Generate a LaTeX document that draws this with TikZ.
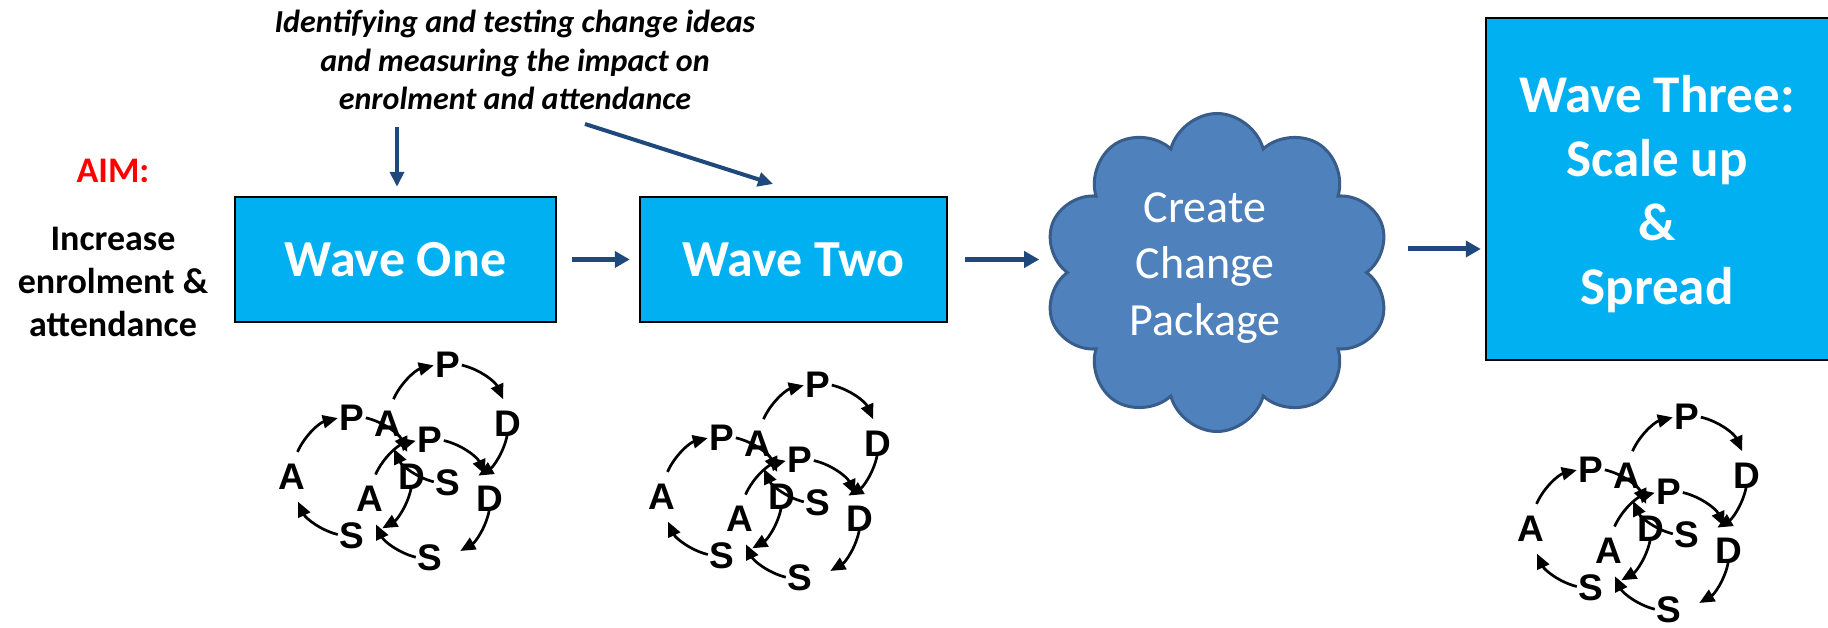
\documentclass[tikz,border=0pt]{standalone}
\usepackage{fontspec}
\setmainfont{Carlito}
\newfontfamily\pdsafont{Liberation Sans}
\usetikzlibrary{shapes.symbols,arrows.meta}
\definecolor{waveblue}{HTML}{00B0F0}
\definecolor{cloudblue}{HTML}{4F81BD}
\definecolor{cloudedge}{HTML}{385D8A}
\definecolor{arrowblue}{HTML}{1F497D}
\definecolor{aimred}{HTML}{FF0000}
\tikzset{
  wavebox/.style={draw=black, line width=2.4pt, fill=waveblue, inner sep=0pt,
    text=white, font=\bfseries\fontsize{52}{64}\selectfont},
  wavetext/.style={text=white, font=\bfseries\fontsize{53}{64}\selectfont,
    align=center, inner sep=0pt},
  flowarrow/.style={draw=arrowblue, line width=5pt, -{Triangle[length=15pt,width=16pt]}},
  feedarrow/.style={draw=arrowblue, line width=4pt, -{Triangle[length=15pt,width=14pt]}},
  pdsaletter/.style={font=\pdsafont\bfseries\fontsize{37}{37}\selectfont, inner sep=0pt},
  pdsaarc/.style={line width=2.7pt, -{Triangle[length=15pt,width=13pt]}},
  % one Plan-Do-Study-Act cycle, clockwise
  pdsa cycle/.pic={
    \draw[pdsaarc] (156:60) arc[start angle=156, end angle=104, radius=60];
    \draw[pdsaarc] (77:60) arc[start angle=77, end angle=24, radius=60];
    \draw[pdsaarc] (-11:60) arc[start angle=-11, end angle=-60, radius=60];
    \draw[pdsaarc] (-104:60) arc[start angle=-104, end angle=-155, radius=60];
    \node[pdsaletter] (-P) at (90:59) {P};
    \node[pdsaletter] (-D) at (0:60) {D};
    \node[pdsaletter] (-S) at (-90:59) {S};
    \node[pdsaletter] (-A) at (180:60) {A};
  },
  % three linked cycles
  pdsa ramp/.pic={
    \pic (-c1) at (0,0) {pdsa cycle};
    \pic (-c2) at (96,52.7) {pdsa cycle};
    \pic (-c3) at (78,-22.7) {pdsa cycle};
  }
}
\begin{document}
\begin{tikzpicture}[x=1pt,y=1pt]
\useasboundingbox (0,0) rectangle (1828,628);
\clip (0,0) rectangle (1828,628);

% headline over the first two waves
\node[font=\bfseries\itshape\fontsize{32}{38.5}\selectfont, align=center, inner sep=0pt]
  (ideas) at (515,567.7)
  {Identifying and testing change ideas\\and measuring the impact on\\enrolment and attendance};

% aim
\node[text=aimred, font=\bfseries\fontsize{36}{36}\selectfont, anchor=base, inner sep=0pt]
  (aim) at (113,445) {AIM:};
\node[font=\bfseries\fontsize{36}{43.3}\selectfont, align=center, inner sep=0pt]
  (goal) at (113,346) {Increase\\enrolment \&\\attendance};

% waves
\node[wavebox, minimum width=321pt, minimum height=125pt] (w1) at (395.5,368.5) {Wave One};
\node[wavebox, minimum width=307pt, minimum height=125pt] (w2) at (793.5,368.5) {Wave Two};
\node[wavebox, minimum width=364pt, minimum height=342pt] (w3) at (1668,439) {};
\node[wavetext] (w3text) at (1657,434) {Wave Three:\\Scale up\\\&\\Spread};

% change package
\node[cloud, cloud puffs=10, cloud ignores aspect, draw=cloudedge, line width=3pt, fill=cloudblue,
  minimum width=346pt, minimum height=318pt, inner sep=0pt] (cloud) at (1217,355.5) {};
\node[text=white, font=\fontsize{46}{56.5}\selectfont, align=center, inner sep=0pt]
  (cloudtext) at (1205,360) {Create\\Change\\Package};

% flow
\draw[flowarrow, shorten <=15pt, shorten >=9pt] (w1.east) -- (w2.west);
\draw[flowarrow, shorten <=17pt] (w2.east) -- ++(91,0) coordinate (cloudin);
\coordinate (cloudout) at (1408,379);
\draw[flowarrow, shorten >=4pt] (cloudout) -- (cloudout -| w3.west);

% feeds from the headline
\coordinate (feedA) at (397,501);
\draw[feedarrow, shorten >=9pt] (feedA) -- (feedA |- w1.north);
\coordinate (feedB) at (585,504);
\coordinate (feedBend) at (773,444);
\draw[feedarrow] (feedB) -- (feedBend);

% PDSA ramps
\pic (r1) at (352.3,151.7) {pdsa ramp};
\pic (r2) at (722.3,131.7) {pdsa ramp};
\pic (r3) at (1591.3,99.7) {pdsa ramp};
\end{tikzpicture}
\end{document}
